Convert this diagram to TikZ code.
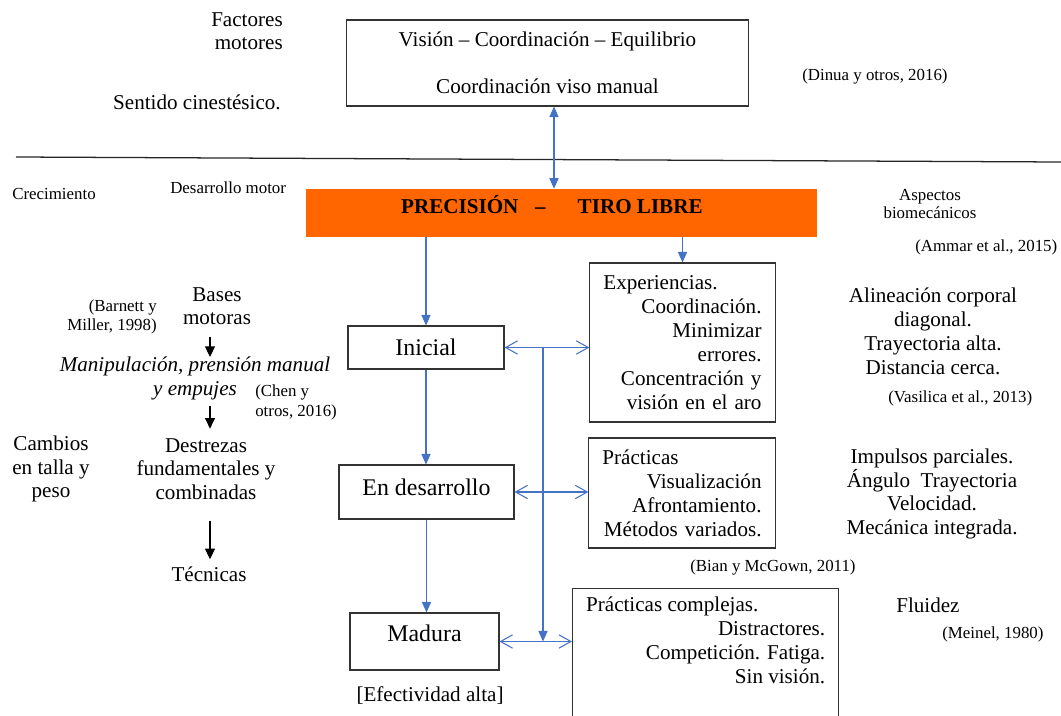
\documentclass[tikz,border=0pt]{standalone}
\usepackage{fontspec}
\setmainfont{Liberation Serif}
\usepackage{xcolor}
\usepackage{tikz}
\usetikzlibrary{arrows.meta, positioning, calc}
\definecolor{naranja}{HTML}{FF6600}
\definecolor{azulflecha}{HTML}{4472C4}
\newcommand{\letranormal}{\fontsize{15}{17}\selectfont}
\newcommand{\letraapretada}{\fontsize{15}{16.5}\selectfont}
\newcommand{\letragrande}{\fontsize{17}{20}\selectfont}
\newcommand{\letracita}{\fontsize{12}{14}\selectfont}
\tikzset{
	etapabox/.style={draw=black!80, line width=0.75pt, font=\letragrande, inner sep=0pt},
	listabox/.style={draw=black!80, line width=0.75pt, font=\letranormal, inner xsep=0.34cm, inner ysep=0pt},
	textonodo/.style={font=\letranormal, inner sep=0pt, align=center},
	citanodo/.style={font=\letracita, inner sep=0pt},
	azularr/.style={-{Triangle[length=7.5pt, width=6.5pt]}, azulflecha, line width=0.75pt},
	azuldoblearr/.style={{Triangle[length=7.5pt, width=6.5pt]}-{Triangle[length=7.5pt, width=6.5pt]}, azulflecha, line width=0.75pt},
	dobleazularr/.style={{Straight Barb[length=8.5pt, width=9.5pt]}-{Straight Barb[length=8.5pt, width=9.5pt]}, azulflecha, line width=0.75pt},
	negraarr/.style={-{Triangle[length=7.5pt, width=7pt]}, black, line width=0.8pt},
}
\begin{document}
\begin{tikzpicture}[x=0.025cm, y=-0.025cm]
	\useasboundingbox (0,0) rectangle (1061,716);
	\clip (0,0) rectangle (1061,716);
	\coordinate (ejeV) at (554,0);
	\coordinate (ejeC) at (543,0);
	\coordinate (ejeIzq) at (210,0);
	% Factores motores
	\node[textonodo, align=right, anchor=east, font=\letraapretada] (factores) at (283,31.5) {Factores\\motores};
	\node[textonodo, anchor=east] (sentido) at (281,102) {Sentido cinestésico.};
	\node[etapabox, font=\letranormal, align=center, minimum width=10.025cm, minimum height=2.15cm] (vision) at (547.5,63) {Visión – Coordinación – Equilibrio\\[0.57cm]Coordinación viso manual};
	\node[citanodo, anchor=west] (dinua) at (802,76) {(Dinua y otros, 2016)};
	\draw[black!85, line width=0.9pt] (16,157) -- (1061,162);
	% Precision
	\node[citanodo, anchor=west] (crecimiento) at (12,194) {Crecimiento};
	\node[citanodo, anchor=west] (desmotor) at (170,188) {Desarrollo motor};
	\node[fill=naranja, font=\letranormal\bfseries, minimum width=12.775cm, minimum height=1.2cm, text depth=12pt, inner sep=0pt] (precision) at (561.5,213) {PRECISIÓN\hspace{0.42cm}–\hspace{0.8cm}TIRO LIBRE\hspace*{0.48cm}};
	\node[citanodo, align=center, font=\fontsize{12}{13}\selectfont] (aspectos) at (930,204) {Aspectos\\biomecánicos};
	\node[citanodo, anchor=west] (ammar) at (915,247) {(Ammar et al., 2015)};
	% Etapas
	\node[etapabox, minimum width=3.9cm, minimum height=1.075cm] (inicial) at (426,347.5) {Inicial};
	\node[etapabox, minimum width=4.375cm, minimum height=1.35cm, text depth=7pt] (endesarrollo) at (426.5,492) {En desarrollo};
	\node[etapabox, minimum width=3.725cm, minimum height=1.425cm, text depth=12pt] (madura) at (424.5,641.5) {Madura};
	\node[textonodo] (efectividad) at (430,695) {[Efectividad alta]};
	% Practicas
	\node[listabox, align=right, text width=3.95cm, minimum height=3.975cm] (experiencias) at (682.5,342.5) {\makebox[3.95cm][l]{Experiencias.}\\Coordinación.\\Minimizar\\errores.\\Concentración y\\visión en el aro};
	\node[listabox, align=right, text width=3.975cm, minimum height=2.75cm] (practicas) at (682,493) {\makebox[3.975cm][l]{Prácticas}\\Visualización\\Afrontamiento.\\Métodos variados.};
	\node[listabox, anchor=north west, inner ysep=0.22cm] (complejas) at (572,588) {\parbox[t][3.6cm][t]{5.975cm}{\raggedleft\makebox[5.975cm][l]{Prácticas complejas.}\\Distractores.\\Competición. Fatiga.\\Sin visión.}};
	\node[citanodo, anchor=west] (bian) at (690,567) {(Bian y McGown, 2011)};
	% Aspectos biomecanicos
	\node[textonodo] (alineacion) at (933,331) {Alineación corporal\\diagonal.\\Trayectoria alta.\\Distancia cerca.};
	\node[citanodo, anchor=west] (vasilica) at (888,398) {(Vasilica et al., 2013)};
	\node[textonodo] (impulsos) at (932,494) {Impulsos parciales.\\Ángulo\ \ Trayectoria\\Velocidad.\\Mecánica integrada.};
	\node[textonodo, anchor=west] (fluidez) at (896,605) {Fluidez};
	\node[citanodo, anchor=west] (meinel) at (942,634) {(Meinel, 1980)};
	% Desarrollo motor
	\node[textonodo, font=\letraapretada] (bases) at (217,306.5) {Bases\\motoras};
	\node[citanodo, align=right, anchor=east] (barnett) at (157,317) {(Barnett y\\Miller, 1998)};
	\node[textonodo, font=\letraapretada\itshape] (manip) at (195,378.5) {Manipulación, prensión manual\\y empujes};
	\node[citanodo, align=left, anchor=west] (chen) at (255,402.5) {(Chen y\\otros, 2016)};
	\node[textonodo, font=\letraapretada] (destrezas) at (206,469) {Destrezas\\fundamentales y\\combinadas};
	\node[textonodo, font=\letraapretada] (cambios) at (51,469) {Cambios\\en talla y\\peso};
	\node[textonodo] (tecnicas) at (209,574) {Técnicas};
	% Flechas
	\draw[azuldoblearr] (vision.south -| ejeV) -- (precision.north -| ejeV);
	\draw[azularr] (inicial.north |- precision.south) -- (inicial.north);
	\draw[azularr] (experiencias.north |- precision.south) -- (experiencias.north);
	\draw[azularr] (inicial.south) -- (inicial.south |- endesarrollo.north);
	\draw[azularr] (endesarrollo.south) -- (endesarrollo.south |- madura.north);
	\draw[dobleazularr] (inicial.east) -- (inicial.east -| experiencias.west);
	\draw[dobleazularr] (endesarrollo.east) -- (endesarrollo.east -| practicas.west);
	\draw[dobleazularr] (madura.east) -- (madura.east -| complejas.west);
	\draw[azularr] (inicial.east -| ejeC) -- (madura.east -| ejeC);
	\draw[negraarr, shorten <=8pt] (bases.south -| ejeIzq) -- (manip.north -| ejeIzq);
	\draw[negraarr, shorten <=4pt, shorten >=7pt] (manip.south -| ejeIzq) -- (destrezas.north -| ejeIzq);
	\draw[negraarr, shorten <=15pt, shorten >=5pt] (destrezas.south -| ejeIzq) -- (tecnicas.north -| ejeIzq);
\end{tikzpicture}
\end{document}
